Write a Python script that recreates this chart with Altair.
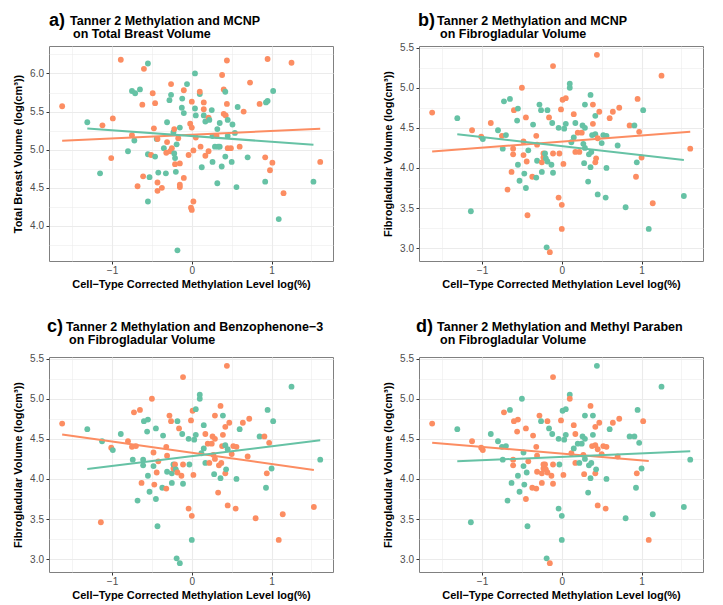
import altair as alt
import pandas as pd

ORANGE = "#FC8D62"
TEAL = "#66C2A5"
FONT = "Liberation Sans"

# ---------------- Panel a: Total breast volume (MCNP split) ----------------
a_x = [-1.625, -1.31, -1.15, -1.12, -1.01, -0.99, -0.89, -0.80, -0.75, -0.71,
       -0.65, -0.75, -0.72, -0.68, -0.62, -0.60, -0.61, -0.55, -0.55, -0.53,
       -0.55, -0.49, -0.475, -0.51, -0.46, -0.46, -0.44, -0.43, -0.43, -0.43,
       -0.42, -0.375, -0.35, -0.325, -0.31, -0.31, -0.32, -0.28, -0.26, -0.26,
       -0.25, -0.27, -0.23, -0.22, -0.22, -0.21, -0.20, -0.21, -0.19, -0.17,
       -0.15, -0.15, -0.15, -0.18, -0.15, -0.125, -0.12, -0.10, -0.10, -0.10,
       -0.06, -0.04, -0.02, 0.00, 0.00, 0.02, -0.01, 0.00, 0.02, 0.04,
       0.04, 0.05, 0.05, 0.10, 0.10, 0.11, 0.125, 0.15, 0.15, 0.17,
       0.15, 0.17, 0.21, 0.21, 0.22, 0.25, 0.26, 0.26, 0.29, 0.33,
       0.35, 0.32, 0.31, 0.32, 0.35, 0.375, 0.38, 0.40, 0.40, 0.425,
       0.42, 0.42, 0.44, 0.44, 0.45, 0.49, 0.45, 0.45, 0.51, 0.50,
       0.56, 0.575, 0.54, 0.60, 0.65, 0.73, 0.70, 0.85, 0.92, 0.92,
       0.93, 0.95, 0.95, 0.98, 1.01, 1.02, 1.09, 1.15, 1.25, 1.525,
       1.61]
a_y = [5.57, 5.36, 4.69, 5.32, 4.89, 5.41, 6.18, 4.98, 5.77, 5.74,
       5.79, 5.19, 5.12, 4.52, 5.59, 6.06, 4.65, 6.13, 4.94, 4.64,
       4.32, 5.74, 5.28, 4.93, 5.61, 4.91, 5.14, 4.57, 4.46, 5.14,
       4.70, 4.50, 5.02, 4.69, 5.36, 5.10, 4.96, 5.65, 5.72, 5.86,
       5.02, 4.98, 5.23, 4.95, 5.27, 4.81, 4.71, 4.89, 5.07, 5.15,
       4.82, 4.51, 4.54, 3.68, 5.29, 5.55, 5.67, 5.48, 5.78, 4.63,
       5.86, 4.93, 5.34, 5.63, 5.29, 4.99, 4.24, 4.21, 4.32, 6.00,
       5.54, 5.45, 5.16, 5.73, 5.76, 5.04, 4.77, 5.62, 5.53, 4.92,
       5.45, 5.37, 5.42, 4.98, 5.39, 5.52, 4.84, 5.18, 5.04, 5.04,
       5.04, 4.56, 5.18, 5.27, 5.35, 4.78, 5.98, 5.79, 5.47, 5.45,
       4.91, 5.76, 6.17, 5.60, 5.02, 5.02, 5.39, 5.18, 5.33, 4.84,
       4.51, 5.56, 5.22, 5.04, 5.50, 5.88, 4.90, 5.60, 4.58, 4.90,
       5.62, 5.64, 6.19, 4.73, 4.83, 5.77, 4.09, 4.43, 6.14, 4.58,
       4.84]
a_g = list("OTTOOOOTTT" "TOTOOOOTTT" "TOOOOTTOOO" "TOTTTOOTTO" "OOTTOOTTTO"
           "OOOTTTTTOO" "TOOOOOOOOT" "TTOTOOTOOO" "TTOOTTTTTT" "TTOTTTOOOO"
           "TTOOOOTTTT" "TTTOOOTOTO" "TTOOOTTOOT" "O")

# ---------------- Panels b-d: Fibroglandular volume ----------------
f_x = [-1.625, -1.31, -1.14, -1.125, -1.01, -0.99, -0.89, -0.80, -0.74, -0.725,
       -0.75, -0.70, -0.68, -0.65, -0.63, -0.61, -0.61, -0.60, -0.56, -0.55,
       -0.55, -0.53, -0.50, -0.48, -0.48, -0.47, -0.45, -0.44, -0.45, -0.43,
       -0.42, -0.36, -0.37, -0.32, -0.32, -0.31, -0.31, -0.28, -0.26, -0.25,
       -0.25, -0.23, -0.23, -0.21, -0.20, -0.18, -0.18, -0.16, -0.19, -0.15,
       -0.13, -0.11, -0.12, -0.11, -0.11, -0.04, -0.03, 0.00, 0.00, -0.04,
       -0.01, 0.01, 0.05, 0.02, 0.03, 0.05, 0.10, 0.10, 0.12, 0.15,
       0.17, 0.15, 0.17, 0.22, 0.20, 0.25, 0.26, 0.29, 0.27, 0.29,
       0.28, 0.29, 0.34, 0.37, 0.33, 0.36, 0.36, 0.38, 0.42, 0.39,
       0.39, 0.42, 0.42, 0.43, 0.44, 0.45, 0.47, 0.45, 0.50, 0.52,
       0.56, 0.56, 0.55, 0.60, 0.64, 0.72, 0.70, 0.80, 0.85, 0.91,
       0.93, 0.95, 0.94, 0.97, 1.00, 1.02, 1.09, 1.14, 1.25, 1.53,
       1.61]
f_y = [4.69, 4.62, 3.46, 4.47, 4.39, 4.36, 4.56, 4.47, 4.24, 4.83,
       4.40, 4.41, 3.73, 4.86, 3.95, 4.24, 4.17, 4.72, 4.59, 4.74,
       4.04, 3.84, 5.00, 4.33, 4.16, 3.93, 4.63, 4.08, 3.75, 3.41,
       4.22, 4.54, 3.89, 3.88, 4.40, 4.29, 4.09, 4.79, 4.72, 3.95,
       4.07, 4.13, 4.18, 4.18, 4.12, 4.08, 4.72, 4.63, 3.01, 2.95,
       4.04, 3.94, 4.56, 5.27, 4.18, 3.63, 4.18, 3.54, 3.24, 4.50,
       4.73, 4.85, 4.87, 4.05, 4.49, 4.55, 5.05, 5.00, 4.32, 4.67,
       4.56, 4.38, 4.20, 4.20, 4.44, 4.44, 4.53, 4.50, 4.30, 4.25,
       4.06, 4.79, 4.17, 4.20, 3.83, 4.91, 4.01, 4.41, 4.42, 4.79,
       4.55, 4.65, 4.07, 4.12, 5.41, 3.67, 4.70, 4.37, 4.31, 4.41,
       4.40, 4.00, 3.63, 4.62, 4.70, 4.75, 4.28, 3.51, 4.53, 4.53,
       3.89, 4.86, 4.07, 4.45, 4.13, 4.72, 3.24, 3.56, 5.15, 3.65,
       4.24]
g_mcnp = list("OTTOOTOTTT" "OTOTOOOOTT" "TTOOOTOOTO" "TTOTOOTTTT" "OOOTTTTOTO"
              "TTTOOOOOOT" "OOOOTTTTTO" "TTOOOOTTTT" "TTTTTTTTTO" "OTOOOTOOTT"
              "TTTOOOTTOT" "OOTOOTTOOT" "O")
g_bp3 = list("OTOTOTTOTO" "OOTOOTTTTT" "TTOOTOTOTT" "OTTOOOTOOT" "TOTOTOTOTT"
             "OTTOOOTOTT" "OOTOTTTTTT" "OTTOOOOOOO" "TOOOOOTOTT" "OOOTOOOTOO"
             "OTOTOOOOTO" "TTOOTTOOTO" "T")
g_mp = list("OTTOOOTTTO" "TTTTTOOOOO" "TTTTTTOTOT" "OOOOOOOOTO" "OOOOOOOTTO"
            "OOTOOTTTTT" "OTTOTTTOOO" "OTOTTTTTOT" "OTTTTOTOOT" "TOOTTOOOOO"
            "OTOTOOOTTT" "TTOTTOOTTT" "T")

# ---------------- Text ----------------
panel_labels = ["a)", "b)", "c)", "d)"]
title_line1 = ["Tanner 2 Methylation and MCNP",
               "Tanner 2 Methylation and MCNP",
               "Tanner 2 Methylation and Benzophenone\u22123",
               "Tanner 2 Methylation and Methyl Paraben"]
title_line2 = ["on Total Breast Volume", "on Fibrogladular Volume",
               "on Fibrogladular Volume", "on Fibrogladular Volume"]
x_title = "Cell\u2212Type Corrected Methylation Level log(%)"
y_titles = ["Total Breast Volume (log(cm\u00b3))",
            "Fibrogladular Volume (log(cm\u00b3))",
            "Fibrogladular Volume (log(cm\u00b3))",
            "Fibrogladular Volume (log(cm\u00b3))"]

x_ticks = [-1.5, -1.0, -0.5, 0.0, 0.5, 1.0, 1.5]
y_ticks_total = [3.75, 4.0, 4.25, 4.5, 4.75, 5.0, 5.25, 5.5, 5.75, 6.0, 6.25]
y_ticks_fibro = [3.0, 3.25, 3.5, 3.75, 4.0, 4.25, 4.5, 4.75, 5.0, 5.25, 5.5]

X_DOMAIN = [-1.79, 1.77]
Y_DOM_TOTAL = [3.54, 6.36]
Y_DOM_FIBRO = [2.84, 5.52]

W, H = 284, 215

color = alt.Color("g:N", scale=alt.Scale(domain=["O", "T"], range=[ORANGE, TEAL]),
                  legend=None)


def panel(x, y, g, ydom, yvals, ytitle, label, l1, l2, ldx, tdx, ty):
    df = pd.DataFrame({"x": x, "y": y, "g": g})
    xmaj = "datum.value % 1 === 0"
    ymaj = "(datum.value * 2) % 1 === 0"
    xaxis = alt.Axis(
        values=x_ticks, title=x_title,
        labelExpr="datum.value % 1 === 0 ? replace(format(datum.value, 'd'), '-', '\u2212') : ''",
        gridWidth={"condition": {"test": xmaj, "value": 1.1}, "value": 0.55},
        tickOpacity={"condition": {"test": xmaj, "value": 1}, "value": 0},
        labelPadding=1, titlePadding=3,
    )
    yaxis = alt.Axis(
        values=yvals, title=ytitle,
        labelExpr="(datum.value * 2) % 1 === 0 ? format(datum.value, '.1f') : ''",
        gridWidth={"condition": {"test": ymaj, "value": 1.1}, "value": 0.55},
        tickOpacity={"condition": {"test": ymaj, "value": 1}, "value": 0},
        labelPadding=2.5, titlePadding=6,
    )
    X = alt.X("x:Q", scale=alt.Scale(domain=X_DOMAIN, nice=False, zero=False), axis=xaxis)
    Y = alt.Y("y:Q", scale=alt.Scale(domain=ydom, nice=False, zero=False), axis=yaxis)
    base = alt.Chart(df)
    pts = base.mark_circle(size=34, opacity=1).encode(x=X, y=Y, color=color)
    reg = base.transform_regression("x", "y", groupby=["g"]).mark_line(
        strokeWidth=2).encode(x=X, y=Y, color=color)
    tdf = pd.DataFrame({"lab": [label], "l1": [l1], "l2": [l2]})
    tb = alt.Chart(tdf)
    t0 = tb.mark_text(font=FONT, fontSize=18, fontWeight="bold", align="left",
                      baseline="alphabetic", color="black").encode(
        text="lab:N", x=alt.value(ldx), y=alt.value(ty + 1))
    t1 = tb.mark_text(font=FONT, fontSize=12.5, fontWeight="bold", align="left",
                      baseline="alphabetic", color="black").encode(
        text="l1:N", x=alt.value(tdx), y=alt.value(ty))
    t2 = tb.mark_text(font=FONT, fontSize=12.5, fontWeight="bold", align="left",
                      baseline="alphabetic", color="black").encode(
        text="l2:N", x=alt.value(tdx + 3), y=alt.value(ty + 13.3))
    return alt.layer(pts, reg, t0, t1, t2).properties(width=W, height=H)


pa = panel(a_x, a_y, a_g, Y_DOM_TOTAL, y_ticks_total, y_titles[0],
           panel_labels[0], title_line1[0], title_line2[0], 0, 21, -21)
pb = panel(f_x, f_y, g_mcnp, Y_DOM_FIBRO, y_ticks_fibro, y_titles[1],
           panel_labels[1], title_line1[1], title_line2[1], -1, 18, -21)
pc = panel(f_x, f_y, g_bp3, Y_DOM_FIBRO, y_ticks_fibro, y_titles[2],
           panel_labels[2], title_line1[2], title_line2[2], -2, 17, -26)
pd_ = panel(f_x, f_y, g_mp, Y_DOM_FIBRO, y_ticks_fibro, y_titles[3],
            panel_labels[3], title_line1[3], title_line2[3], -3, 18, -26)

chart = alt.concat(pa, pb, pc, pd_, columns=2,
                   spacing={"row": 27, "column": 48}).configure_view(
    stroke="#808080", strokeWidth=1
).configure_axis(
    labelFont=FONT, titleFont=FONT, labelFontSize=10, labelColor="#4d4d4d",
    titleFontSize=11, titleFontWeight="bold", titleColor="black",
    gridColor="#ebebeb", domain=False, tickColor="#333333", tickSize=3,
    labelOverlap=False
).properties(
    padding={"left": 12, "top": 11, "right": 5, "bottom": 5},
    background="white"
)

chart.save("out.html", embed_options={"renderer": "svg", "actions": False})
